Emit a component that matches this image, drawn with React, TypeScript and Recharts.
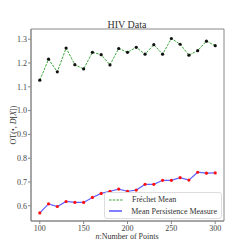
import React from "react";
import { ComposedChart, Line, XAxis, YAxis, ReferenceArea } from "recharts";

const points = [100, 110, 120, 130, 140, 150, 160, 170, 180, 190, 200, 210, 220, 230, 240, 250, 260, 270, 280, 290, 300];
const frechet = [1.128, 1.216, 1.163, 1.263, 1.193, 1.175, 1.245, 1.235, 1.192, 1.261, 1.245, 1.266, 1.237, 1.277, 1.237, 1.303, 1.279, 1.233, 1.252, 1.292, 1.273];
const persistence = [0.57, 0.608, 0.597, 0.618, 0.614, 0.614, 0.635, 0.652, 0.661, 0.67, 0.661, 0.666, 0.69, 0.69, 0.707, 0.707, 0.718, 0.708, 0.741, 0.737, 0.738];
const xTicks = [100, 150, 200, 250, 300];
const yTicks = [0.6, 0.7, 0.8, 0.9, 1.0, 1.1, 1.2, 1.3];
const seriesNames = ["Fréchet Mean", "Mean Persistence Measure"];

const data = points.map((n, i) => ({ n, frechet: frechet[i], persistence: persistence[i] }));

const FONT = "'Liberation Serif', 'DejaVu Serif', serif";
const AXIS = "#888";
const XD: [number, number] = [90, 310];
const YD: [number, number] = [0.536, 1.343];

const LegendBox = () => (
  <div
    style={{
      position: "absolute",
      left: 104,
      top: 192,
      width: 118,
      border: "1px solid #ddd",
      borderRadius: 3,
      background: "rgba(255,255,255,0.8)",
      padding: "1px 4px",
      fontFamily: FONT,
      fontSize: 8,
      color: "#333",
      boxSizing: "border-box",
      whiteSpace: "nowrap",
    }}
  >
    {seriesNames.map((name, i) => (
      <div key={name} style={{ display: "flex", alignItems: "center", height: 11.5 }}>
        <svg width={14} height={6} style={{ marginRight: 9 }}>
          {i === 0 ? (
            <line x1={0} y1={3} x2={14} y2={3} stroke="#3aa83a" strokeWidth={1} strokeDasharray="2.5 1.2" />
          ) : (
            <line x1={0} y1={3} x2={14} y2={3} stroke="#8080ff" strokeWidth={2} />
          )}
        </svg>
        <span>{name}</span>
      </div>
    ))}
  </div>
);

const BlackDot = (p: any) => <circle cx={p.cx} cy={p.cy} r={1.6} fill="#111" />;
const RedDot = (p: any) => <circle cx={p.cx} cy={p.cy} r={1.6} fill="#ff1010" />;

export default function App() {
  return (
    <div style={{ position: "absolute", left: 0, top: 0, width: 249, height: 249, background: "#fff" }}>
      <ComposedChart
        width={249}
        height={249}
        data={data}
        margin={{ top: 29, right: 25, bottom: 0, left: 0 }}
      >
        <XAxis
          dataKey="n"
          type="number"
          domain={XD}
          ticks={xTicks}
          height={28}
          stroke={AXIS}
          tickSize={3}
          tickMargin={1}
          tick={{ fontSize: 8, fill: "#444", fontFamily: FONT }}
        />
        <YAxis
          type="number"
          domain={YD}
          ticks={yTicks}
          width={31}
          stroke={AXIS}
          tickSize={3}
          tickMargin={1}
          tickFormatter={(v: number) => v.toFixed(1)}
          tick={{ fontSize: 8, fill: "#444", fontFamily: FONT }}
        />
        <ReferenceArea x1={XD[0]} x2={XD[1]} y1={YD[0]} y2={YD[1]} fill="none" stroke={AXIS} strokeWidth={1} />
        <Line
          dataKey="frechet"
          name={seriesNames[0]}
          stroke="#3aa83a"
          strokeWidth={1}
          strokeDasharray="2.5 1.2"
          dot={<BlackDot />}
          isAnimationActive={false}
        />
        <Line
          dataKey="persistence"
          name={seriesNames[1]}
          stroke="#6060ff"
          strokeWidth={1.2}
          dot={<RedDot />}
          isAnimationActive={false}
        />
        <text x={127} y={28} textAnchor="middle" fontFamily={FONT} fontSize={10} fill="#333">
          HIV Data
        </text>
        <text x={127} y={239} textAnchor="middle" fontFamily={FONT} fontSize={8} fill="#333">
          <tspan fontStyle="italic">n</tspan>:Number of Points
        </text>
        <text
          x={16}
          y={125}
          textAnchor="middle"
          fontFamily={FONT}
          fontSize={8}
          fill="#333"
          transform="rotate(-90 16 125)"
        >
          OT(•, <tspan fontStyle="italic">D</tspan>[<tspan fontStyle="italic">X</tspan>])
        </text>
      </ComposedChart>
      <LegendBox />
    </div>
  );
}
